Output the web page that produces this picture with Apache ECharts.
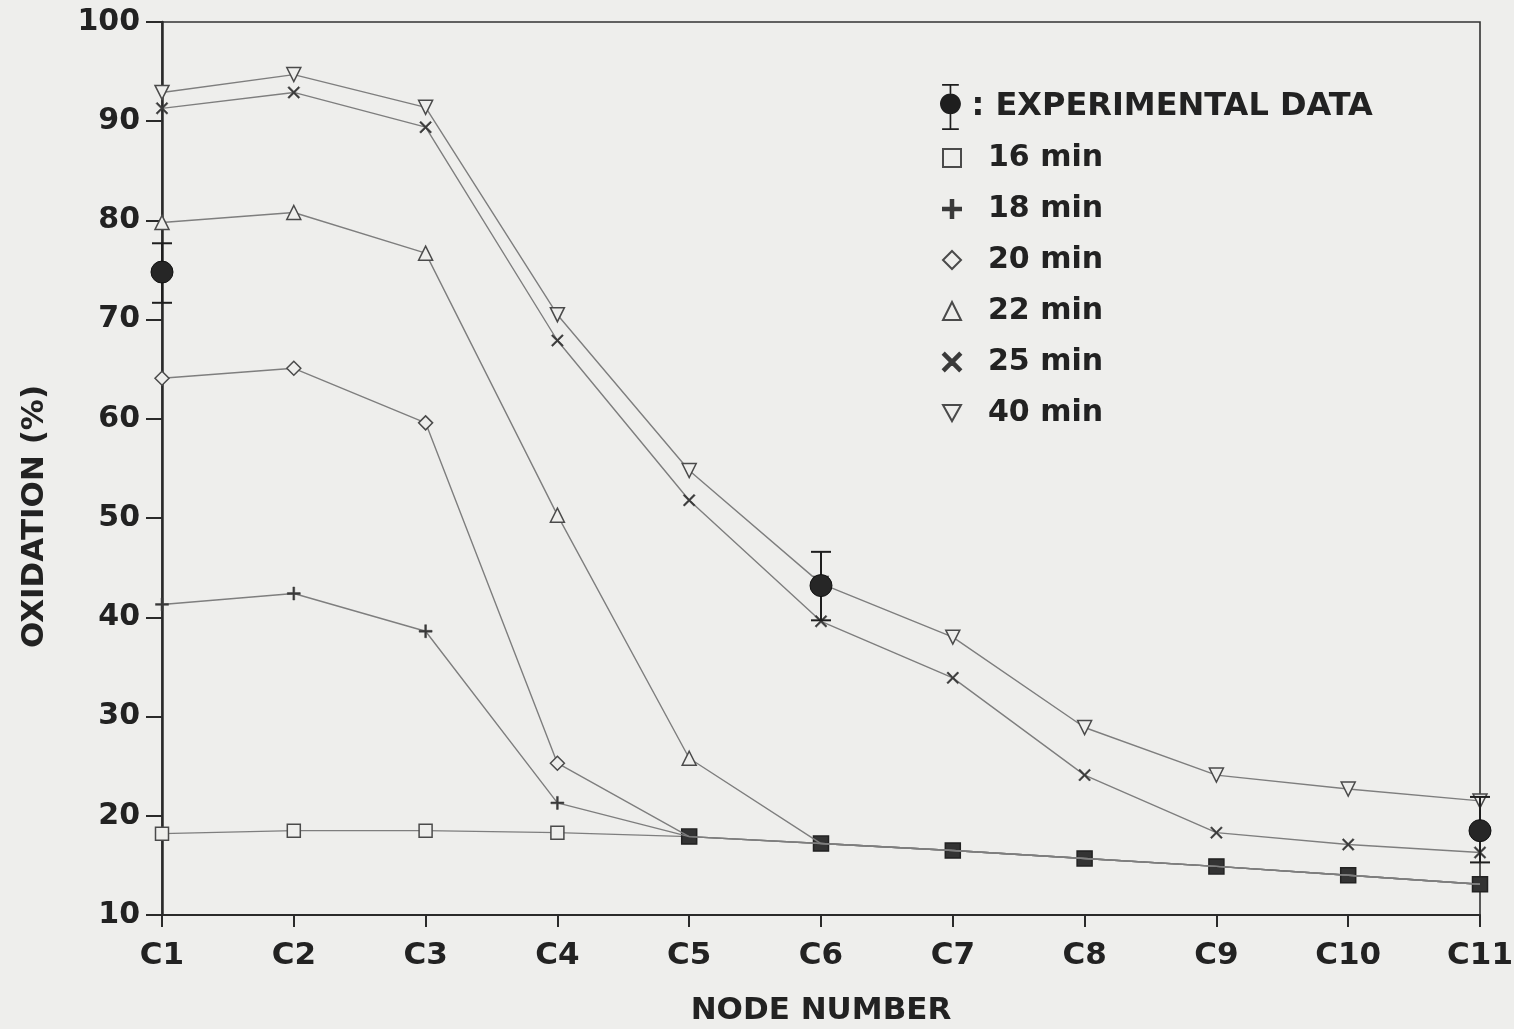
<!DOCTYPE html>
<html><head><meta charset="utf-8">
<script src="https://cdn.jsdelivr.net/npm/echarts@6/dist/echarts.min.js"></script>
<style>html,body{margin:0;padding:0;background:#eeeeec}#c{width:1514px;height:1029px}</style>
</head><body><div id="c"></div>
<script>
// ---- data ----
const categories = ['C1','C2','C3','C4','C5','C6','C7','C8','C9','C10','C11'];
const min16 = [18.2,18.5,18.5,18.3,17.9,17.2,16.5,15.7,14.9,14.0,13.1];
const min18 = [41.3,42.4,38.6,21.3,17.9,17.2,16.5,15.7,14.9,14.0,13.1];
const min20 = [64.1,65.1,59.6,25.3,17.9,17.2,16.5,15.7,14.9,14.0,13.1];
const min22 = [79.8,80.8,76.7,50.3,25.8,17.2,16.5,15.7,14.9,14.0,13.1];
const min25 = [91.3,92.9,89.4,67.9,51.8,39.6,33.9,24.1,18.3,17.1,16.3];
const min40 = [92.9,94.7,91.4,70.5,54.8,43.4,38.0,28.9,24.1,22.7,21.5];
const expCategories = ['C1','C6','C11'];
const expValues = [74.8,43.2,18.5];
const expLow = [71.7,39.7,15.3];
const expHigh = [77.7,46.6,21.9];

// ---- styling ----
const BG = '#eeeeec';
const INK = '#222';
const FONT = 'DejaVu Sans';
const plusPath = 'path://M4.3,0H5.7V4.3H10V5.7H5.7V10H4.3V5.7H0V4.3H4.3Z';
const xPath = 'path://M1,0L5,4L9,0L10,1L6,5L10,9L9,10L5,6L1,10L0,9L4,5L0,1Z';
const downTri = 'path://M0,0L10,0L5,9Z';
const expIcon = 'path://M12,0H28V1.6H12Z M19.2,0H20.8V44H19.2Z M12,42.4H28V44H12Z ' +
  'M10,19C10,13.48 14.48,9 20,9C25.52,9 30,13.48 30,19C30,24.52 25.52,29 20,29C14.48,29 10,24.52 10,19Z';

const defs = [
  {name:'16 min', data:min16, symbol:'rect', size:13, hollow:true},
  {name:'18 min', data:min18, symbol:plusPath, size:13, hollow:false},
  {name:'20 min', data:min20, symbol:'diamond', size:14, hollow:true},
  {name:'22 min', data:min22, symbol:'triangle', size:14, hollow:true},
  {name:'25 min', data:min25, symbol:xPath, size:12, hollow:false},
  {name:'40 min', data:min40, symbol:downTri, size:14, hollow:true}
];

function coincident(i, v) { return Math.abs(v - min16[i]) < 0.05; }

const lineSeries = defs.map((d, si) => ({
  type: 'line',
  name: d.name,
  symbol: d.symbol,
  symbolSize: d.size,
  showAllSymbol: true,
  z: 3 + si,
  lineStyle: {color: '#7e7e7e', width: 1.4},
  itemStyle: d.hollow ? {color: BG, borderColor: '#4a4a4a', borderWidth: 1.5}
                      : {color: '#3a3a3a', borderColor: '#3a3a3a', borderWidth: 0.5},
  emphasis: {disabled: true},
  data: d.data.map((v, i) => {
    if (si === 0) {
      const shared = defs.slice(1).some(o => coincident(i, o.data[i]));
      return shared ? {value: v, symbolSize: 15, itemStyle: {color: '#333', borderColor: '#222'}} : v;
    }
    return coincident(i, v) ? {value: v, symbolSize: 0} : v;
  })
}));

const expSeries = {
  type: 'custom',
  name: 'EXPERIMENTAL DATA',
  z: 20,
  itemStyle: {color: '#1e1e1e'},
  encode: {x: 0, y: [1, 2, 3]},
  data: expCategories.map((c, i) => [categories.indexOf(c), expValues[i], expLow[i], expHigh[i]]),
  renderItem: function (params, api) {
    const c = api.coord([api.value(0), api.value(1)]);
    const lo = api.coord([api.value(0), api.value(2)]);
    const hi = api.coord([api.value(0), api.value(3)]);
    const st = {stroke: '#1e1e1e', lineWidth: 2};
    const cap = 10;
    return {
      type: 'group',
      children: [
        {type: 'line', shape: {x1: c[0], y1: hi[1], x2: c[0], y2: lo[1]}, style: st},
        {type: 'line', shape: {x1: c[0]-cap, y1: hi[1], x2: c[0]+cap, y2: hi[1]}, style: st},
        {type: 'line', shape: {x1: c[0]-cap, y1: lo[1], x2: c[0]+cap, y2: lo[1]}, style: st},
        {type: 'circle', shape: {cx: c[0], cy: c[1], r: 11}, style: {fill: '#262626', stroke: '#111', lineWidth: 1}}
      ]
    };
  }
};

const textStyle = {fontFamily: FONT, fontWeight: 'bold', fontSize: 30, color: INK};

const option = {
  backgroundColor: BG,
  animation: false,
  textStyle: {fontFamily: FONT},
  grid: {left: 162, right: 34, top: 22, bottom: 114, show: true, borderColor: '#333', borderWidth: 1.6,
         backgroundColor: 'transparent', outerBoundsMode: 'none', containLabel: false},
  legend: [
    {
      data: [{name: 'EXPERIMENTAL DATA', icon: expIcon}],
      left: 940, top: 84, padding: 0,
      itemWidth: 24, itemHeight: 46,
      formatter: ': {name}',
      selectedMode: false,
      textStyle: Object.assign({}, textStyle, {fontSize: 32, padding: [0, 0, 0, 4]})
    },
    {
      data: [
        {name: '16 min', icon: 'rect'},
        {name: '18 min', icon: plusPath},
        {name: '20 min', icon: 'diamond'},
        {name: '22 min', icon: 'triangle'},
        {name: '25 min', icon: xPath},
        {name: '40 min', icon: downTri}
      ],
      orient: 'vertical',
      left: 942, top: 143, padding: 0,
      itemWidth: 18, itemHeight: 18, itemGap: 21,
      selectedMode: false,
      textStyle: Object.assign({}, textStyle, {lineHeight: 30, padding: [0, 0, 0, 22]})
    }
  ],
  xAxis: {
    type: 'category',
    data: categories,
    boundaryGap: false,
    name: 'NODE NUMBER',
    nameLocation: 'middle',
    nameGap: 80,
    nameTextStyle: {fontFamily: FONT, fontWeight: 'bold', fontSize: 31, color: INK},
    axisLine: {lineStyle: {color: '#2a2a2a', width: 2}},
    axisTick: {show: true, length: 12, lineStyle: {color: '#2a2a2a', width: 2}},
    axisLabel: {fontFamily: FONT, fontWeight: 'bold', fontSize: 31, color: INK, margin: 25},
    splitLine: {show: false}
  },
  yAxis: {
    type: 'value',
    min: 10, max: 100, interval: 10,
    name: 'OXIDATION (%)',
    nameLocation: 'middle',
    nameGap: 112,
    nameRotate: 90,
    nameTextStyle: {fontFamily: FONT, fontWeight: 'bold', fontSize: 31, color: INK, padding: [0, 96, 0, 0]},
    axisLine: {show: true, lineStyle: {color: '#2a2a2a', width: 2.5}},
    axisTick: {show: true, length: 16, lineStyle: {color: '#2a2a2a', width: 2}},
    axisLabel: {fontFamily: FONT, fontWeight: 'bold', fontSize: 30, color: INK, margin: 22},
    splitLine: {show: false}
  },
  series: lineSeries.concat([expSeries])
};

echarts.init(document.getElementById('c'), null, {renderer: 'canvas'}).setOption(option);
</script>
</body></html>
